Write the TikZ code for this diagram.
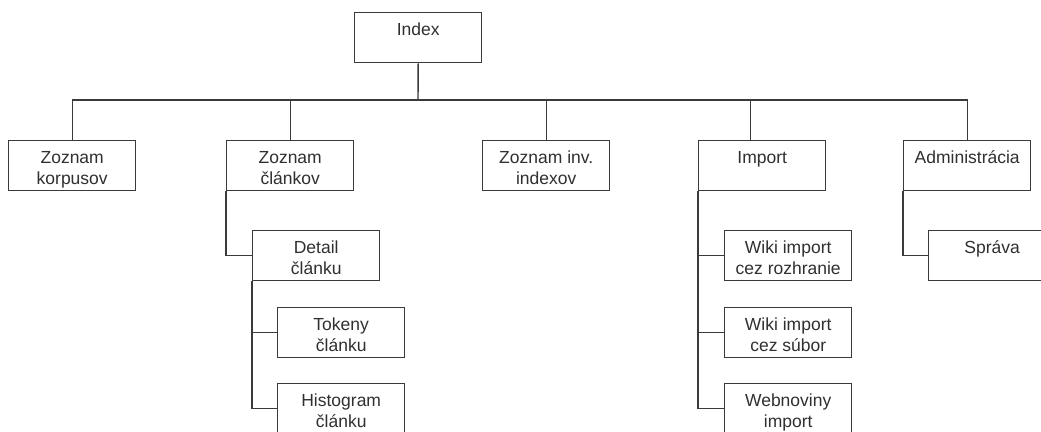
\documentclass[tikz,border=0pt]{standalone}
\usepackage{fontspec}
\setmainfont{Liberation Sans}
\definecolor{linec}{HTML}{3A3A3A}
\definecolor{textc}{HTML}{303030}
% box label: fixed 50pt tall, text set from the top
\newcommand\boxlabel[1]{\parbox[c][50pt][t]{127pt}{\centering\fontsize{17.5}{20.5}\selectfont\vspace*{8.6pt}\strut #1}}
\tikzset{
  pagebox/.style={draw=linec, line width=1.4pt, fill=white, inner sep=0pt,
    minimum width=127pt, minimum height=50pt, anchor=north west, text=textc},
  link/.style={draw=linec, line width=1.4pt}
}
\begin{document}
\begin{tikzpicture}[x=1pt,y=-1pt]
\path[use as bounding box, clip] (0,0) rectangle (1041,431);
\fill[white] (0,0) rectangle (1041,431);

% top level
\node[pagebox] (idx) at (354,12) {\boxlabel{Index}};
\coordinate (bus) at (418,100);

% second level
\node[pagebox] (korp) at (8,140)   {\boxlabel{Zoznam\\korpusov}};
\node[pagebox] (clan) at (226,140) {\boxlabel{Zoznam\\článkov}};
\node[pagebox] (inv)  at (482,140) {\boxlabel{Zoznam inv.\\indexov}};
\node[pagebox] (imp)  at (698,140) {\boxlabel{Import}};
\node[pagebox] (adm)  at (903,140) {\boxlabel{Administrácia}};

% articles subtree
\node[pagebox] (det)  at (252,230) {\boxlabel{Detail\\článku}};
\node[pagebox] (tok)  at (277,307) {\boxlabel{Tokeny\\článku}};
\node[pagebox] (hist) at (277,383) {\boxlabel{Histogram\\článku}};

% import subtree
\node[pagebox] (wiki1) at (724,230) {\boxlabel{Wiki import\\cez rozhranie}};
\node[pagebox] (wiki2) at (724,307) {\boxlabel{Wiki import\\cez súbor}};
\node[pagebox] (webn)  at (724,383) {\boxlabel{Webnoviny\\import}};

% administration subtree
\node[pagebox] (spr) at (928,230) {\boxlabel{Správa}};

% connectors: root to second level
\draw[link] (idx.south) -- (bus);
\draw[link] (korp.north) |- (bus);
\draw[link] (clan.north) |- (bus);
\draw[link] (inv.north) |- (bus);
\draw[link] ([xshift=-12pt]imp.north) |- (bus);
\draw[link] (adm.north) |- (bus);

% connectors: subtrees
\draw[link] (clan.south west) |- (det.west);
\draw[link] (det.south west) |- (tok.west);
\draw[link] (det.south west) |- (hist.west);
\draw[link] (imp.south west) |- (wiki1.west);
\draw[link] (imp.south west) |- (wiki2.west);
\draw[link] (imp.south west) |- (webn.west);
\draw[link] (adm.south west) |- (spr.west);
\end{tikzpicture}
\end{document}
